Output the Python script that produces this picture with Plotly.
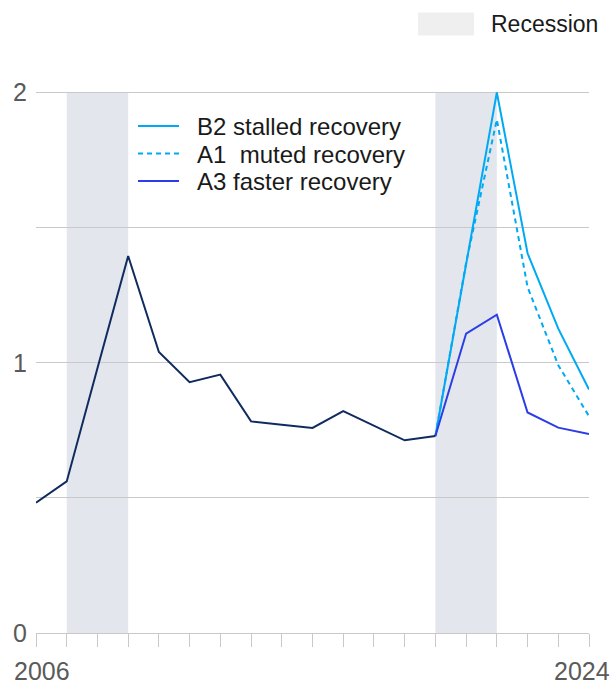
import plotly.graph_objects as go

# ---- data ----
hist_years = list(range(2006, 2020))
hist_values = [0.482, 0.561, 0.98, 1.395, 1.040, 0.928, 0.956, 0.783, 0.771,
               0.759, 0.821, 0.768, 0.713, 0.729]

scen_years = [2019, 2020, 2021, 2022, 2023, 2024]
b2_values = [0.729, 1.36, 2.0, 1.405, 1.126, 0.901]
a1_values = [0.729, 1.37, 1.90, 1.28, 0.991, 0.802]
a3_values = [0.729, 1.108, 1.178, 0.816, 0.760, 0.736]

recessions = [(2007, 2009), (2019, 2021)]
y_tickvals = [0, 0.5, 1, 1.5, 2]
y_ticktext = ["0", "", "1", "", "2"]
x_labels = ["2006", "2024"]
legend_names = ["B2 stalled recovery", "A1\u00a0 muted recovery", "A3 faster recovery"]

# ---- styles ----
W, H = 611, 686
L, R, T, B = 36, 22, 78.5, 53
FONT = "Liberation Sans"
NAVY = "#102b5e"
LIGHT = "#00a9f4"
BLUE = "#2a3de6"
SHADE = "#e3e7ed"
GRID = "#c9c9c9"

plot_w = W - L - R
plot_h = H - T - B


def px(xpix):
    return (xpix - L) / plot_w


def py(ypix):
    return (H - B - ypix) / plot_h


fig = go.Figure()

fig.add_trace(go.Scatter(x=scen_years, y=b2_values, mode="lines",
                         line=dict(color=LIGHT, width=2), name=legend_names[0],
                         showlegend=False))
fig.add_trace(go.Scatter(x=scen_years, y=a1_values, mode="lines",
                         line=dict(color=LIGHT, width=2, dash="5px,4px"),
                         name=legend_names[1], showlegend=False))
fig.add_trace(go.Scatter(x=scen_years, y=a3_values, mode="lines",
                         line=dict(color=BLUE, width=2), name=legend_names[2],
                         showlegend=False))
fig.add_trace(go.Scatter(x=hist_years, y=hist_values, mode="lines",
                         line=dict(color=NAVY, width=2), showlegend=False))

shapes = []
for a, b in recessions:
    shapes.append(dict(type="rect", xref="x", yref="y", x0=a, x1=b, y0=0, y1=2,
                       fillcolor=SHADE, line=dict(width=0), layer="below"))

# Recession legend box
shapes.append(dict(type="rect", xref="paper", yref="paper",
                   x0=px(418), x1=px(474), y0=py(35), y1=py(12),
                   fillcolor="#efefef", line=dict(width=0)))

annotations = [dict(xref="paper", yref="paper", x=px(489), y=py(23.5),
                    text="Recession", showarrow=False, xanchor="left",
                    yanchor="middle", font=dict(family=FONT, size=23, color="#1a1a1a"))]

# scenario legend
leg_rows = [125.5, 153, 180.5]
leg_styles = [dict(color=LIGHT, width=2), dict(color=LIGHT, width=2, dash="5px,4px"),
              dict(color=BLUE, width=2)]
for name, yrow, st in zip(legend_names, leg_rows, leg_styles):
    shapes.append(dict(type="line", xref="paper", yref="paper",
                       x0=px(138), x1=px(179), y0=py(yrow), y1=py(yrow), line=st))
    annotations.append(dict(xref="paper", yref="paper", x=px(195), y=py(yrow + 1),
                            text=name, showarrow=False, xanchor="left", yanchor="middle",
                            font=dict(family=FONT, size=24, color="#1a1a1a")))

# x labels
annotations.append(dict(xref="paper", yref="paper", x=px(42), y=py(686), text=x_labels[0],
                        showarrow=False, xanchor="center", yanchor="bottom", borderpad=0,
                        font=dict(family=FONT, size=25, color="#5a5a5a")))
annotations.append(dict(xref="paper", yref="paper", x=px(582), y=py(686), text=x_labels[1],
                        showarrow=False, xanchor="center", yanchor="bottom", borderpad=0,
                        font=dict(family=FONT, size=25, color="#5a5a5a")))

fig.update_layout(
    width=W, height=H,
    margin=dict(l=L, r=R, t=T, b=B, autoexpand=False),
    paper_bgcolor="white", plot_bgcolor="white",
    shapes=shapes, annotations=annotations,
    showlegend=False,
    font=dict(family=FONT),
    xaxis=dict(range=[2006, 2024], showgrid=False, zeroline=False, showline=True,
               linecolor=GRID, linewidth=1, ticks="outside", ticklen=13,
               tickcolor=GRID, tickwidth=1, dtick=1, tick0=2006,
               showticklabels=False, fixedrange=True),
    yaxis=dict(range=[0, 2.05], tickvals=y_tickvals, ticktext=y_ticktext,
               showgrid=True, gridcolor=GRID, gridwidth=1, zeroline=False,
               showline=False, ticks="", ticklabelstandoff=8,
               tickfont=dict(family=FONT, size=25, color="#5a5a5a"), fixedrange=True),
)

fig.write_html("out.html", config={"displayModeBar": False},
               post_script="document.body.style.margin='0px';document.body.style.overflow='hidden';")
